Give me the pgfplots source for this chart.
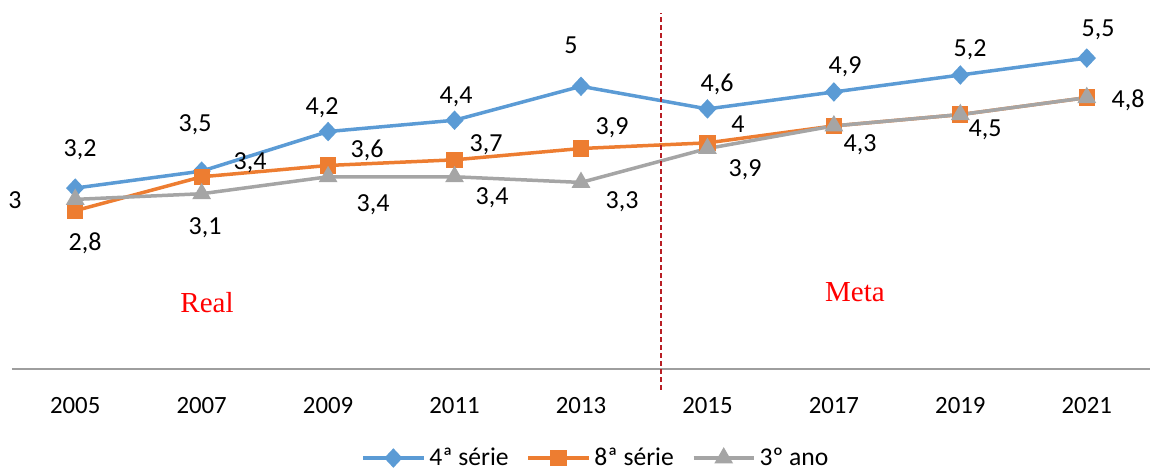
\documentclass[border=0pt]{standalone}
\usepackage{pgfplots}
\pgfplotsset{compat=1.18}
\usepackage{fontspec}
\setmainfont{Carlito}
\newfontfamily\serif{Liberation Serif}

\definecolor{c4}{HTML}{5B9BD5}
\definecolor{c8}{HTML}{ED7D31}
\definecolor{c3}{HTML}{A5A5A5}
\definecolor{metaline}{HTML}{B81E24}

% rotulo em coordenadas de pixel da figura original (0.5pt por px)
\newcommand\lab[3]{\node[font=\fontsize{13}{15}\selectfont] at ({(#1-12)*0.5pt},{(369-#2)*0.5pt}) {#3};}

\begin{document}
\begin{tikzpicture}
\useasboundingbox (-6pt,-51pt) rectangle (570.5pt,184.5pt);
\begin{axis}[
    at={(0,0)}, anchor=south west,
    scale only axis,
    width=569pt, height=179.5pt,
    xmin=2004, xmax=2022,
    ymin=0, ymax=6.35,
    axis x line*=bottom,
    axis y line=none,
    x axis line style={draw=black!38, line width=0.7pt, -},
    xtick={2005,2007,2009,2011,2013,2015,2017,2019,2021},
    xticklabels={2005,2007,2009,2011,2013,2015,2017,2019,2021},
    major tick length=0pt,
    xticklabel style={anchor=base, yshift=-22.5pt, font=\fontsize{12.4}{14}\selectfont},
    clip=false,
    legend columns=3,
    legend style={at={(0.514,-0.248)}, anchor=center, draw=none,
        font=\fontsize{12.8}{15}\selectfont,
        /tikz/every even column/.append style={column sep=7pt}},
    legend image code/.code={
        \draw[mark repeat=2,mark phase=2] plot coordinates {(0cm,0cm) (0.53cm,0cm) (1.06cm,0cm)};},
]
\addplot[c4, line width=1.75pt, mark=diamond*, mark size=3.6pt, mark options={xscale=1.25}] coordinates {
    (2005,3.2) (2007,3.5) (2009,4.2) (2011,4.4) (2013,5.0) (2015,4.6) (2017,4.9) (2019,5.2) (2021,5.5)};
\addlegendentry{4ª série}
\addplot[c8, line width=1.75pt, mark=square*, mark size=3.2pt] coordinates {
    (2005,2.8) (2007,3.4) (2009,3.6) (2011,3.7) (2013,3.9) (2015,4.0) (2017,4.3) (2019,4.5) (2021,4.8)};
\addlegendentry{8ª série}
\addplot[c3, line width=1.75pt, mark=triangle*, mark size=3.7pt] coordinates {
    (2005,3.0) (2007,3.1) (2009,3.4) (2011,3.4) (2013,3.3) (2015,3.9) (2017,4.3) (2019,4.5) (2021,4.8)};
\addlegendentry{3º ano}
\end{axis}

% linha que separa Real de Meta
\draw[metaline, line width=0.75pt, dash pattern=on 2.5pt off 1.5pt] (324.5pt,-10.5pt) -- (324.5pt,178pt);

% 4a serie
\lab{80}{150}{3,2}
\lab{195}{125}{3,5}
\lab{322}{108}{4,2}
\lab{456}{97}{4,4}
\lab{571}{45}{5}
\lab{717}{84}{4,6}
\lab{845}{67}{4,9}
\lab{970}{50}{5,2}
\lab{1098}{30}{5,5}
% 8a serie
\lab{85}{243}{2,8}
\lab{250}{163}{3,4}
\lab{367}{150}{3,6}
\lab{486}{145}{3,7}
\lab{612}{128}{3,9}
\lab{738}{124}{4}
% 3o ano
\lab{15}{200}{3}
\lab{205}{228}{3,1}
\lab{373}{205}{3,4}
\lab{492}{198}{3,4}
\lab{622}{202}{3,3}
\lab{745}{170}{3,9}
\lab{860}{145}{4,3}
\lab{985}{130}{4,5}
\lab{1128}{100}{4,8}

\node[red, font=\serif\fontsize{14.5}{16}\selectfont] at ({(207-12)*0.5pt},{(369-303)*0.5pt}) {Real};
\node[red, font=\serif\fontsize{14.5}{16}\selectfont] at ({(855-12)*0.5pt},{(369-292)*0.5pt}) {Meta};
\end{tikzpicture}
\end{document}
